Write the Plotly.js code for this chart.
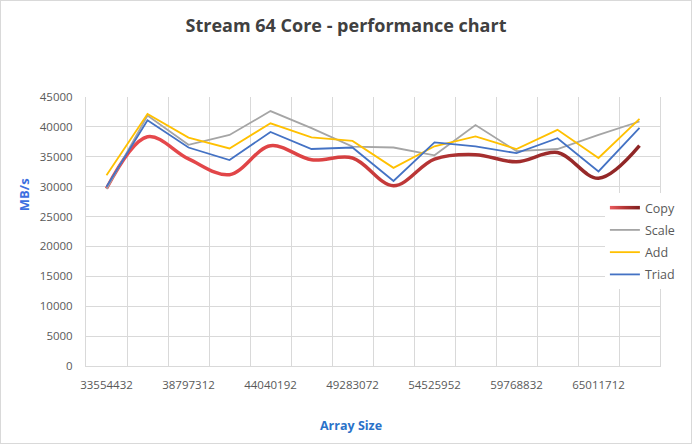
<!DOCTYPE html>
<html>
<head>
<meta charset="utf-8">
<script src="https://cdn.plot.ly/plotly-3.0.1.min.js"></script>
<style>
  html, body { margin: 0; padding: 0; background: #fff; }
  #chart { width: 690px; height: 442px; border: 1px solid #d9d9d9; }
</style>
</head>
<body>
<div id="chart"></div>
<script>
// array sizes (x categories)
var sizes = [33554432, 36175872, 38797312, 41418752, 44040192, 46661632, 49283072,
             51904512, 54525952, 57147392, 59768832, 62390272, 65011712, 67633152];

// MB/s per kernel
var copy  = [29700, 38350, 34650, 32000, 36850, 34500, 34800, 30150, 34600, 35350, 34150, 35700, 31400, 36850];
var scale = [29600, 41900, 37000, 38650, 42650, 39800, 36700, 36550, 35250, 40300, 35950, 36300, 38650, 40900];
var add   = [31900, 42150, 38200, 36400, 40600, 38250, 37650, 33150, 36750, 38400, 36300, 39500, 34800, 41350];
var triad = [30000, 41100, 36550, 34450, 39150, 36300, 36550, 30950, 37400, 36750, 35600, 38100, 32550, 39850];

var step = sizes[1] - sizes[0];
var font = '"Open Sans", "Noto Sans", sans-serif';

function line(name, y, color, width, shape) {
    return {
        x: sizes, y: y, name: name, legendgroup: name,
        type: 'scatter', mode: 'lines',
        line: { color: color, width: width, shape: shape || 'linear', smoothing: 1 }
    };
}

var traces = [
    line('Copy', copy, '#c03a3a', 3.5, 'spline'),
    line('Scale', scale, '#a5a5a5', 1.8),
    line('Add', add, '#ffc000', 1.8),
    line('Triad', triad, '#4472c4', 1.8)
];

var layout = {
    width: 690, height: 442,
    margin: { l: 85, r: 10, t: 96, b: 77 },
    paper_bgcolor: '#fff', plot_bgcolor: '#fff',
    font: { family: font, color: '#595959', size: 11.5 },
    title: {
        text: '<b>Stream 64 Core - performance chart</b>',
        font: { family: font, size: 18, color: '#404040' },
        x: 0.5, xanchor: 'center', y: 0.945, yanchor: 'middle'
    },
    xaxis: {
        range: [sizes[0] - step / 2, sizes[sizes.length - 1] + step / 2],
        tickmode: 'linear', tick0: sizes[0], dtick: 2 * step,
        tickformat: 'd', showgrid: false, zeroline: false,
        ticks: '', ticklabelstandoff: 8,
        showline: true, linecolor: '#d9d9d9', linewidth: 1,
        minor: { tick0: sizes[0] - step / 2, dtick: step, showgrid: true, gridcolor: '#d9d9d9', gridwidth: 1, ticks: '' }
    },
    yaxis: {
        range: [0, 45000], dtick: 5000, tickformat: 'd',
        gridcolor: '#d9d9d9', gridwidth: 1, zeroline: false,
        ticks: '', ticklabelstandoff: 10,
        showline: true, mirror: true, linecolor: '#d9d9d9', linewidth: 1
    },
    showlegend: true,
    legend: {
        x: 0.904, xanchor: 'left', y: 0.643, yanchor: 'top',
        bgcolor: '#fff', borderwidth: 0,
        font: { family: font, size: 12.5, color: '#595959' },
        traceorder: 'grouped', tracegroupgap: 3
    },
    annotations: [
        {
            text: '<b>MB/s</b>', xref: 'paper', yref: 'paper',
            x: -0.1076, y: 0.636, xanchor: 'center', yanchor: 'middle',
            textangle: -90, showarrow: false,
            font: { family: font, size: 13, color: '#3d6fe0' }
        },
        {
            text: '<b>Array Size</b>', xref: 'paper', yref: 'paper',
            x: 0.462, y: -0.22, xanchor: 'center', yanchor: 'middle',
            showarrow: false,
            font: { family: font, size: 12.5, color: '#2a72c9' }
        }
    ]
};

function addGradient(svg, id, stops, attrs) {
    var ns = 'http://www.w3.org/2000/svg';
    var defs = svg.querySelector('defs') || svg.insertBefore(document.createElementNS(ns, 'defs'), svg.firstChild);
    var g = document.createElementNS(ns, 'linearGradient');
    g.setAttribute('id', id);
    for (var k in attrs) g.setAttribute(k, attrs[k]);
    stops.forEach(function (s) {
        var st = document.createElementNS(ns, 'stop');
        st.setAttribute('offset', s[0]);
        st.setAttribute('stop-color', s[1]);
        g.appendChild(st);
    });
    defs.appendChild(g);
}

Plotly.newPlot('chart', traces, layout, { displayModeBar: false, staticPlot: true }).then(function (gd) {
    var svg = gd.querySelector('.main-svg');
    addGradient(svg, 'copyGrad',
        [[0, '#e84a4f'], [0.4, '#dc4243'], [0.66, '#aa3030'], [1, '#8e2626']],
        { x1: '0', y1: '0', x2: '1', y2: '0' });
    addGradient(svg, 'copyLegendGrad',
        [[0, '#ea5a5e'], [0.5, '#b23434'], [1, '#7e2020']],
        { gradientUnits: 'userSpaceOnUse', x1: '5', y1: '0', x2: '35', y2: '0' });
    var p = gd.querySelectorAll('.scatterlayer .trace')[0].querySelector('path.js-line');
    if (p) p.style.stroke = 'url(#copyGrad)';
    var lp = gd.querySelectorAll('.legend .traces')[0].querySelector('path.js-line');
    if (lp) lp.style.stroke = 'url(#copyLegendGrad)';
});
</script>
</body>
</html>
